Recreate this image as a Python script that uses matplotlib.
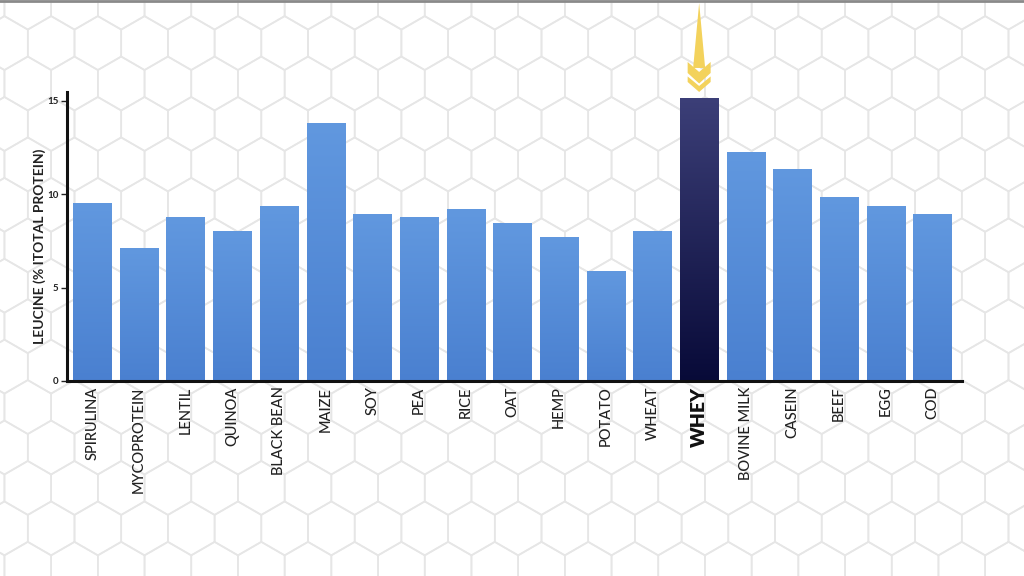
import numpy as np
import matplotlib.pyplot as plt
import matplotlib.transforms as mtransforms
from matplotlib.collections import LineCollection
from matplotlib.colors import LinearSegmentedColormap
from matplotlib.patches import Polygon

categories = ["SPIRULINA", "MYCOPROTEIN", "LENTIL", "QUINOA", "BLACK BEAN", "MAIZE",
              "SOY", "PEA", "RICE", "OAT", "HEMP", "POTATO", "WHEAT", "WHEY",
              "BOVINE MILK", "CASEIN", "BEEF", "EGG", "COD"]
leucine = [9.53, 7.12, 8.78, 8.03, 9.37, 13.82, 8.94, 8.78, 9.21, 8.46, 7.71,
           5.89, 8.03, 15.16, 12.27, 11.36, 9.86, 9.37, 8.94]
highlight = "WHEY"
y_ticks = [0, 5, 10, 15]

plt.rcParams['font.family'] = ['Lato', 'DejaVu Sans']

fig = plt.figure(figsize=(10.24, 5.76), dpi=100)
fig.patch.set_facecolor("white")

# honeycomb background, pixel coordinates
bg = fig.add_axes([0, 0, 1, 1], zorder=0)
bg.set_xlim(0, 1024)
bg.set_ylim(576, 0)
bg.axis("off")
w = 46.7
s = w / np.sqrt(3)
dy = 1.5 * s
ang = np.deg2rad(np.arange(30, 390, 60))
segs = []
for k in range(-12, 8):
    cy = 447.5 + k * dy
    x0 = 845.05 + (w / 2 if k % 2 else 0)
    for cx in np.arange(x0 - 19 * w, 1100, w):
        pts = np.column_stack([cx + s * np.cos(ang), cy + s * np.sin(ang)])
        segs.append(np.vstack([pts, pts[:1]]))
bg.add_collection(LineCollection(segs, colors="#e6e6e6", linewidths=1.2))
bg.plot([0, 1024], [0.5, 0.5], color="#8a8a8a", lw=2)

ax = fig.add_axes([67 / 1024, 1 - 381 / 576, 895 / 1024, 289 / 576], zorder=1)
ax.patch.set_alpha(0)
x = np.arange(len(categories))
blue = LinearSegmentedColormap.from_list("b", ["#4a80d0", "#6198df"])
navy = LinearSegmentedColormap.from_list("n", ["#080a38", "#3c3f78"])
bars = ax.bar(x, leucine, width=0.82, color="#5a8fd9", zorder=2)
grad = np.linspace(0, 1, 256).reshape(-1, 1)
for bar, cat in zip(bars, categories):
    cmap = navy if cat == highlight else blue
    bx, by = bar.get_x(), bar.get_height()
    im = ax.imshow(grad, cmap=cmap, origin="lower", aspect="auto", zorder=3,
                   extent=[bx, bx + bar.get_width(), 0, by])
    im.set_clip_path(bar)

ax.set_xlim(-0.54, len(categories) - 0.37)
ax.set_ylim(0, 15.48)
for side in ["top", "right"]:
    ax.spines[side].set_visible(False)
for side in ["left", "bottom"]:
    ax.spines[side].set_linewidth(2.2)
    ax.spines[side].set_color("#111111")
    ax.spines[side].set_zorder(5)
ax.set_yticks(y_ticks)
ax.tick_params(axis="y", length=4, width=1, labelsize=7, pad=2, colors="#222222")
for lab in ax.get_yticklabels():
    lab.set_fontweight("bold")
ax.set_xticks(x, categories, rotation=90)
ax.tick_params(axis="x", length=0, pad=4, labelsize=10.5, colors="#222222")
for lab in ax.get_xticklabels():
    lab.set_fontweight("medium")
    if lab.get_text() == highlight:
        lab.set_fontsize(14)
        lab.set_fontweight("heavy")
        lab.set_color("#111111")
ax.set_ylabel("LEUCINE (% ITOTAL PROTEIN)", fontsize=10, fontweight="bold",
              color="#222222", labelpad=1)
ax.yaxis.label.set_y(0.467)

# yellow arrow pointing at the highlighted bar (pixel offsets, y down)
hi = categories.index(highlight)
tr = mtransforms.Affine2D().scale(1, -1) + \
    mtransforms.ScaledTranslation(hi, leucine[hi], ax.transData)
yellow = "#f3d25c"
shapes = [
    [(0, -95), (-6, -30), (6, -30)],
    [(-11.5, -36), (0, -26), (11.5, -36), (11.5, -25), (0, -14.5), (-11.5, -25)],
    [(-11.5, -21.5), (0, -12), (11.5, -21.5), (11.5, -16), (0, -6), (-11.5, -16)],
]
for pts in shapes:
    fig.add_artist(Polygon(pts, closed=True, facecolor=yellow, edgecolor="none",
                           transform=tr, zorder=6))

fig.savefig("out.png", dpi=100)
